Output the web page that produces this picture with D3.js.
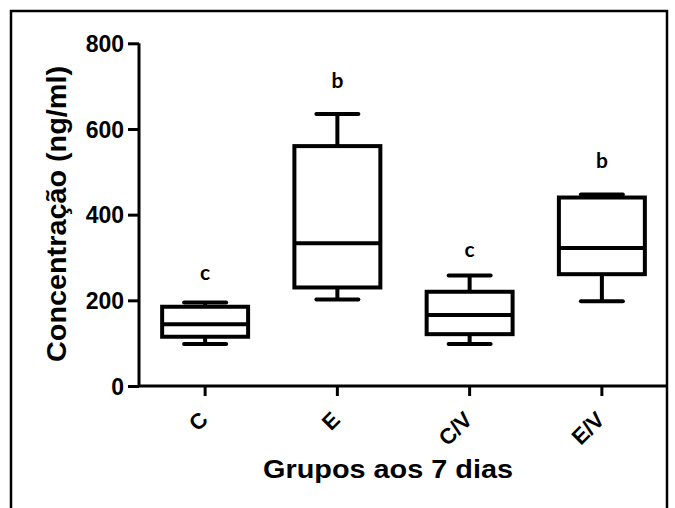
<!DOCTYPE html>
<html>
<head>
<meta charset="utf-8">
<script src="https://cdn.jsdelivr.net/npm/d3@7"></script>
<style>
  html, body { margin: 0; padding: 0; background: #fff; }
  svg { display: block; }
</style>
</head>
<body>
<svg id="chart" width="675" height="508"></svg>
<script>
// ---- data ----
const categories = ["C", "E", "C/V", "E/V"];
const minValues    = [98, 202, 98, 198];
const q1Values     = [115, 230, 121, 261];
const medianValues = [144, 333, 166, 322];
const q3Values     = [185, 560, 220, 440];
const maxValues    = [195, 635, 258, 447];
const letters      = ["c", "b", "c", "b"];
const letterValues = [247, 695, 301, 509];
const yTicks = [0, 200, 400, 600, 800];
const yTitle = "Concentração (ng/ml)";
const xTitle = "Grupos aos 7 dias";

(function () {
// ---- layout ----
const svg = d3.select("#chart");
const pLeft = 139, pRight = 668, pTop = 43.3, pBottom = 386;
const arial = "Arial, 'Liberation Sans', sans-serif";

// frame
svg.append("path")
  .attr("d", "M11,510 L11,11 L667,11 L667,510")
  .attr("fill", "none").attr("stroke", "#000").attr("stroke-width", 2.5);

const x = d3.scaleBand().domain(categories).range([pLeft, pRight]).padding(0);
const y = d3.scaleLinear().domain([0, 800]).range([pBottom, pTop]);

const data = categories.map((c, i) => ({
  cat: c, min: minValues[i], q1: q1Values[i], med: medianValues[i],
  q3: q3Values[i], max: maxValues[i], letter: letters[i], lv: letterValues[i]
}));

// y axis
const yAxis = svg.append("g").attr("transform", `translate(${pLeft},0)`)
  .call(d3.axisLeft(y).tickValues(yTicks).tickSize(11).tickPadding(4).tickFormat(d3.format("d")));
yAxis.select(".domain").attr("stroke-width", 3).attr("d", `M0,${pTop}V${pBottom}`);
yAxis.selectAll(".tick line").attr("stroke-width", 3);
yAxis.selectAll(".tick text")
  .attr("font-family", arial).attr("font-weight", "bold").attr("font-size", 23)
  .attr("fill", "#000").attr("dy", "0.36em");

// x axis
const xAxis = svg.append("g").attr("transform", `translate(0,${pBottom})`)
  .call(d3.axisBottom(x).tickSize(10).tickFormat(""));
xAxis.select(".domain").attr("stroke-width", 3).attr("d", `M${pLeft},0H${pRight}`);
xAxis.selectAll(".tick line").attr("stroke-width", 3);

// x tick labels rotated
svg.append("g").selectAll("text").data(categories).join("text")
  .attr("transform", d => `translate(${x(d) + x.bandwidth() / 2 + 4},421) rotate(-45)`)
  .attr("text-anchor", "end")
  .attr("font-family", arial).attr("font-weight", "bold").attr("font-size", 22)
  .attr("fill", "#000")
  .text(d => d);

// boxes
const bw = x.bandwidth() * 0.65;
const capHalf = 21;
const g = svg.append("g").selectAll("g").data(data).join("g")
  .attr("transform", d => `translate(${x(d.cat) + x.bandwidth() / 2},0)`);

g.append("line") // lower whisker
  .attr("x1", 0).attr("x2", 0).attr("y1", d => y(d.q1)).attr("y2", d => y(d.min))
  .attr("stroke", "#000").attr("stroke-width", 4);
g.append("line") // upper whisker
  .attr("x1", 0).attr("x2", 0).attr("y1", d => y(d.q3)).attr("y2", d => y(d.max))
  .attr("stroke", "#000").attr("stroke-width", 4);
g.append("line") // min cap
  .attr("x1", -capHalf).attr("x2", capHalf).attr("y1", d => y(d.min)).attr("y2", d => y(d.min))
  .attr("stroke", "#000").attr("stroke-width", 4).attr("stroke-linecap", "round");
g.append("line") // max cap
  .attr("x1", -capHalf).attr("x2", capHalf).attr("y1", d => y(d.max)).attr("y2", d => y(d.max))
  .attr("stroke", "#000").attr("stroke-width", 4).attr("stroke-linecap", "round");
g.append("rect")
  .attr("x", -bw / 2).attr("width", bw)
  .attr("y", d => y(d.q3)).attr("height", d => y(d.q1) - y(d.q3))
  .attr("fill", "#fff").attr("stroke", "#000").attr("stroke-width", 4);
g.append("line") // median
  .attr("x1", -bw / 2).attr("x2", bw / 2).attr("y1", d => y(d.med)).attr("y2", d => y(d.med))
  .attr("stroke", "#000").attr("stroke-width", 4);

// significance letters
g.append("text")
  .attr("x", 0).attr("y", d => y(d.lv))
  .attr("text-anchor", "middle")
  .attr("font-family", "Lato, 'Open Sans', sans-serif").attr("font-weight", "bold")
  .attr("font-size", 21).attr("fill", "#000")
  .text(d => d.letter);

// axis titles
svg.append("text")
  .attr("transform", "translate(66,214) rotate(-90)")
  .attr("text-anchor", "middle")
  .attr("font-family", arial).attr("font-weight", "bold").attr("font-size", 27)
  .attr("textLength", 296).attr("lengthAdjust", "spacingAndGlyphs")
  .attr("fill", "#000").text(yTitle);

svg.append("text")
  .attr("x", 388).attr("y", 478)
  .attr("text-anchor", "middle")
  .attr("font-family", arial).attr("font-weight", "bold").attr("font-size", 25)
  .attr("textLength", 250).attr("lengthAdjust", "spacingAndGlyphs")
  .attr("fill", "#000").text(xTitle);
})();
</script>
</body>
</html>
